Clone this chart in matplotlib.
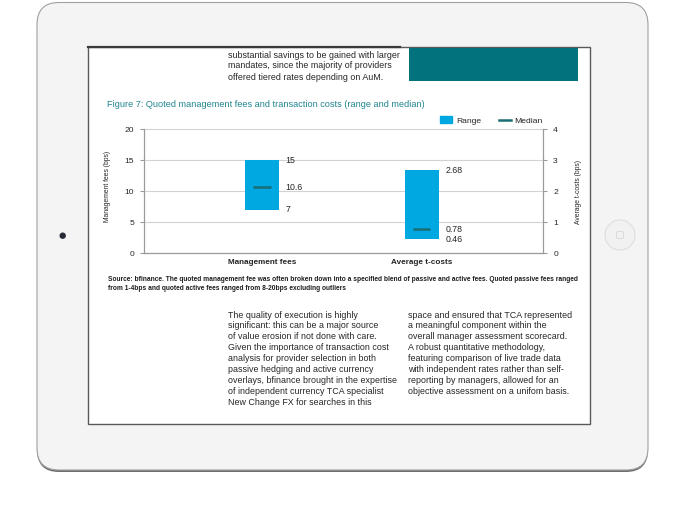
"""Figure 7 page shown on an iPad frame."""
import numpy as np
import matplotlib
matplotlib.use('Agg')
import matplotlib.pyplot as plt
from matplotlib.patches import FancyBboxPatch, Rectangle, Circle, Patch
from matplotlib.lines import Line2D

plt.rcParams['font.family'] = ['Liberation Sans', 'DejaVu Sans']

# ------------------------------------------------------------
# Data
# ------------------------------------------------------------
categories = ['Management fees', 'Average t-costs']
range_low = [7, 0.46]
range_high = [15, 2.68]
medians = [10.6, 0.78]
value_labels = [['15', '10.6', '7'], ['2.68', '0.78', '0.46']]
left_ticks = [0, 5, 10, 15, 20]
right_ticks = [0, 1, 2, 3, 4]

title = 'Figure 7: Quoted management fees and transaction costs (range and median)'
intro_lines = ['substantial savings to be gained with larger',
               'mandates, since the majority of providers',
               'offered tiered rates depending on AuM.']
source_lines = ['Source: bfinance. The quoted management fee was often broken down into a specified blend '
                'of passive and active fees. Quoted passive fees ranged',
                'from 1-4bps and quoted active fees ranged from 8-20bps excluding outliers']
col1_lines = ['The quality of execution is highly',
              'significant: this can be a major source',
              'of value erosion if not done with care.',
              'Given the importance of transaction cost',
              'analysis for provider selection in both',
              'passive hedging and active currency',
              'overlays, bfinance brought in the expertise',
              'of independent currency TCA specialist',
              'New Change FX for searches in this']
col2_lines = ['space and ensured that TCA represented',
              'a meaningful component within the',
              'overall manager assessment scorecard.',
              'A robust quantitative methodology,',
              'featuring comparison of live trade data',
              'with independent rates rather than self-',
              'reporting by managers, allowed for an',
              'objective assessment on a unifom basis.']

BAR = '#00a8e1'
MED = '#1a6d74'
TEAL = '#02737c'
TITLE_C = '#21868f'
TXT = '#262626'
AXC = '#9a9a9a'

W, H = 685, 522
fig = plt.figure(figsize=(W / 100, H / 100), dpi=100)
fig.patch.set_facecolor('white')

# background layer in pixel coordinates
bg = fig.add_axes([0, 0, 1, 1])
bg.set_xlim(0, W)
bg.set_ylim(H, 0)
bg.axis('off')

# iPad body
bg.add_patch(FancyBboxPatch((37, 4), 611, 468, boxstyle='round,pad=0,rounding_size=22',
                            facecolor='#6f6f6f', edgecolor='none'))
bg.add_patch(FancyBboxPatch((37, 2.5), 611, 467.5, boxstyle='round,pad=0,rounding_size=22',
                            facecolor='#f4f4f4', edgecolor='#a0a0a0', lw=0.8))
# screen
bg.add_patch(Rectangle((88.5, 47), 502, 376.5, facecolor='white', edgecolor='#5a5a5a', lw=1.0))
bg.plot([88.5, 400], [47.3, 47.3], color='#3a3a3a', lw=1.6)
# camera and home button
bg.add_patch(Circle((62.7, 235.7), 3.2, facecolor='#262b35', edgecolor='none'))
bg.add_patch(Circle((620, 235), 15, facecolor='#f1f1f1', edgecolor='#dedede', lw=0.8))
bg.add_patch(FancyBboxPatch((616.5, 231.5), 7, 7, boxstyle='round,pad=0,rounding_size=1.5',
                            facecolor='none', edgecolor='#d6d6d6', lw=0.6))

# teal block
bg.add_patch(Rectangle((408.6, 47.7), 169.4, 33, facecolor=TEAL, edgecolor='none'))

# page texts
for i, line in enumerate(intro_lines):
    bg.text(228, 55 + i * 11, line, fontsize=6.4, color=TXT, va='center')
bg.text(107, 104.5, title, fontsize=6.55, color=TITLE_C, va='center')
for i, line in enumerate(source_lines):
    bg.text(108, 279.5 + i * 9, line, fontsize=4.8, color='#1e1e1e', va='center',
            fontweight='bold')
for i, line in enumerate(col1_lines):
    bg.text(228.5, 315 + i * 10.96, line, fontsize=6.4, color=TXT, va='center')
for i, line in enumerate(col2_lines):
    bg.text(408.5, 315 + i * 10.96, line, fontsize=6.4, color=TXT, va='center')

# ------------------------------------------------------------
# Chart
# ------------------------------------------------------------
ax = fig.add_axes([144.3 / W, 1 - 253.3 / H, 398.7 / W, 124.3 / H])
ax.set_facecolor('none')
ax2 = ax.twinx()
axes_list = [ax, ax2]

bar_w = 0.216
for i, a in enumerate(axes_list):
    a.bar(i, range_high[i] - range_low[i], bottom=range_low[i], width=bar_w, color=BAR, zorder=2)
    a.hlines(medians[i], i - bar_w / 4, i + bar_w / 4, color=MED, lw=1.8, zorder=3)
    for v, s in zip([range_high[i], medians[i], range_low[i]], value_labels[i]):
        a.annotate(s, (i + bar_w / 2, v), xytext=(4.6, 0), textcoords='offset points',
                   ha='left', va='center', fontsize=6.3, color=TXT)

ax.set_xlim(-0.737, 1.759)
ax.set_xticks([0, 1])
ax.set_xticklabels(categories, fontweight='bold', fontsize=5.9, color=TXT)
ax.set_ylim(0, 20)
ax.set_yticks(left_ticks)
ax2.set_ylim(0, 4)
ax2.set_yticks(right_ticks)
ax.grid(True, axis='y', color='#d2d2d2', lw=0.8)
ax.set_axisbelow(True)

for a in axes_list:
    a.spines['top'].set_visible(False)
    for side in ['left', 'right', 'bottom']:
        a.spines[side].set_color(AXC)
        a.spines[side].set_linewidth(0.8)
    a.tick_params(axis='y', length=3, color=AXC, labelsize=6.1, pad=4.3, labelcolor=TXT)
ax.tick_params(axis='x', length=0, pad=4)

ax.set_ylabel('Management fees (bps)', fontsize=4.9, color=TXT)
ax.yaxis.set_label_coords(-0.0835, 0.536)
ax2.set_ylabel('Average t-costs (bps)', fontsize=4.9, color=TXT, rotation=90)
ax2.yaxis.set_label_coords(1.080, 0.496)

handles = [Patch(color=BAR, label='Range'), Line2D([0], [0], color=MED, lw=1.8, label='Median')]
ax2.legend(handles=handles, loc='lower right', bbox_to_anchor=(1.0, 1.035), ncol=2,
           frameon=False, fontsize=6.1, handlelength=1.4, handleheight=0.8,
           columnspacing=2.0, handletextpad=0.5, borderaxespad=0, borderpad=0,
           labelcolor=TXT)

plt.savefig('out.png', dpi=100)
